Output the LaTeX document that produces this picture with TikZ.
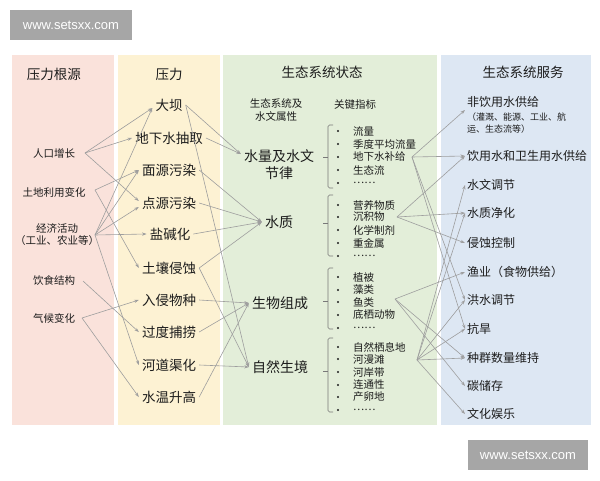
\documentclass[tikz,border=0pt]{standalone}
\usepackage{fontspec}
\setmainfont{Noto Sans CJK SC}
\newfontfamily\wmfont{Liberation Sans}
\usetikzlibrary{arrows.meta}
\definecolor{pinkbg}{RGB}{250,226,219}
\definecolor{yelbg}{RGB}{253,242,211}
\definecolor{grnbg}{RGB}{227,238,217}
\definecolor{blubg}{RGB}{221,231,243}
\definecolor{linec}{RGB}{158,158,158}
\definecolor{brkc}{RGB}{120,120,120}
\definecolor{txt}{RGB}{28,28,28}
\definecolor{wmgray}{RGB}{166,166,166}
\begin{document}
\begin{tikzpicture}[x=1pt,y=-1pt,
  ttl/.style={font=\fontsize{13.5}{15}\selectfont, text=txt, inner sep=0pt},
  src/.style={font=\fontsize{10.5}{12}\selectfont, text=txt, inner sep=0pt, align=center},
  prs/.style={font=\fontsize{13.5}{15}\selectfont, text=txt, inner xsep=3pt, inner ysep=0pt},
  stt/.style={font=\fontsize{14}{17}\selectfont, text=txt, inner xsep=3pt, inner ysep=0pt, align=center},
  hdr/.style={font=\fontsize{10.5}{13}\selectfont, text=txt, inner sep=0pt, align=center},
  ind/.style={font=\fontsize{10.5}{12}\selectfont, text=txt, inner sep=0pt, anchor=west},
  svc/.style={font=\fontsize{12}{14}\selectfont, text=txt, inner xsep=2pt, inner ysep=0pt, anchor=west},
  note/.style={font=\fontsize{9}{12}\selectfont, text=txt, inner sep=0pt, anchor=west, align=left},
  arr/.style={draw=linec, line width=0.6pt, -{Stealth[length=4.5pt,width=3.2pt]}},
  brk/.style={draw=brkc, line width=0.6pt, rounded corners=1.5pt},
  bul/.style={fill=txt},
  wm/.style={fill=wmgray, text=white, font=\wmfont\fontsize{13}{15}\selectfont, inner sep=0pt}
]
\path[use as bounding box, fill=white] (0,0) rectangle (600,480);

% panels
\fill[pinkbg] (12,55) rectangle (114,425);
\fill[yelbg] (118,55) rectangle (220,425);
\fill[grnbg] (223,55) rectangle (437,425);
\fill[blubg] (441,55) rectangle (591,425);

% watermarks
\node[wm, minimum width=122pt, minimum height=30pt] (wm1) at (71,25) {www.setsxx.com};
\node[wm, minimum width=120pt, minimum height=30pt] (wm2) at (528,455) {www.setsxx.com};

% titles
\node[ttl] (t1) at (54,74) {压力根源};
\node[ttl] (t2) at (169,74) {压力};
\node[ttl] (t3) at (322,72) {生态系统状态};
\node[ttl] (t4) at (523,72) {生态系统服务};

% column 1
\node[src] (r1) at (54,153) {人口增长};
\node[src] (r2) at (54,192) {土地利用变化};
\node[src] (r3) at (57,235) {经济活动\\（工业、农业等）};
\node[src] (r4) at (54,280) {饮食结构};
\node[src] (r5) at (54,318) {气候变化};
\coordinate (r1o) at (85,153);
\coordinate (r2o) at (95,190);
\coordinate (r3o) at (95,235);
\coordinate (r4o) at (83,281);
\coordinate (r5o) at (82,318);

% column 2
\node[prs] (p1) at (169,105) {大坝};
\node[prs] (p2) at (169,138) {地下水抽取};
\node[prs] (p3) at (169,170) {面源污染};
\node[prs] (p4) at (169,203) {点源污染};
\node[prs] (p5) at (170,234) {盐碱化};
\node[prs] (p6) at (169,268) {土壤侵蚀};
\node[prs] (p7) at (169,300) {入侵物种};
\node[prs] (p8) at (169,332) {过度捕捞};
\node[prs] (p9) at (169,365) {河道渠化};
\node[prs] (p10) at (169,397) {水温升高};

% column 3
\node[hdr] (h1) at (276,110) {生态系统及\\水文属性};
\node[hdr] (h2) at (355,105) {关键指标};
\node[stt] (e1) at (279,165) {水量及水文\\节律};
\node[stt] (e2) at (279,222) {水质};
\node[stt] (e3) at (280,303) {生物组成};
\node[stt] (e4) at (280,367) {自然生境};

% brackets
\draw[brk] (333,125) -- (328,125) -- (328,188) -- (333,188);
\draw[brk] (323,157) -- (328,157);
\draw[brk] (333,195) -- (328,195) -- (328,256) -- (333,256);
\draw[brk] (323,223) -- (328,223);
\draw[brk] (333,268) -- (328,268) -- (328,329) -- (333,329);
\draw[brk] (323,301) -- (328,301);
\draw[brk] (333,338) -- (328,338) -- (328,412) -- (333,412);
\draw[brk] (323,371) -- (328,371);

% indicators
\foreach \yy in {131,144,157,170,183, 205,217,230,243,256, 277,290,302,315,328, 347,359,372,385,397,410}
  \fill[bul] (338,\yy) circle (1.2pt);
\node[ind] (i11) at (353,131) {流量};
\node[ind] (i12) at (353,144) {季度平均流量};
\node[ind] (i13) at (353,157) {地下水补给};
\node[ind] (i14) at (353,170) {生态流};
\node[ind] (i15) at (353,183) {……};
\node[ind] (i21) at (353,205) {营养物质};
\node[ind] (i22) at (353,217) {沉积物};
\node[ind] (i23) at (353,230) {化学制剂};
\node[ind] (i24) at (353,243) {重金属};
\node[ind] (i25) at (353,256) {……};
\node[ind] (i31) at (353,277) {植被};
\node[ind] (i32) at (353,290) {藻类};
\node[ind] (i33) at (353,302) {鱼类};
\node[ind] (i34) at (353,315) {底栖动物};
\node[ind] (i35) at (353,328) {……};
\node[ind] (i41) at (353,347) {自然栖息地};
\node[ind] (i42) at (353,359) {河漫滩};
\node[ind] (i43) at (353,372) {河岸带};
\node[ind] (i44) at (353,385) {连通性};
\node[ind] (i45) at (353,397) {产卵地};
\node[ind] (i46) at (353,410) {……};
\coordinate (gwo) at (412,157);
\coordinate (sedo) at (397,217);
\coordinate (fisho) at (395,299);
\coordinate (habo) at (417,360);

% column 4
\node[svc] (s1) at (465,102) {非饮用水供给};
\node[note] (s1n) at (467,123) {（灌溉、能源、工业、航\\运、生态流等）};
\node[svc] (s2) at (465,156) {饮用水和卫生用水供给};
\node[svc] (s3) at (465,185) {水文调节};
\node[svc] (s4) at (465,213) {水质净化};
\node[svc] (s5) at (465,243) {侵蚀控制};
\node[svc] (s6) at (465,272) {渔业（食物供给）};
\node[svc] (s7) at (465,300) {洪水调节};
\node[svc] (s8) at (465,329) {抗旱};
\node[svc] (s9) at (465,358) {种群数量维持};
\node[svc] (s10) at (465,386) {碳储存};
\node[svc] (s11) at (465,414) {文化娱乐};

% connectors: column 1 -> column 2
\draw[arr] (r1o) -- ([yshift=-3pt]p1.west);
\draw[arr] (r1o) -- (p2.west);
\draw[arr] (r1o) -- ([yshift=2pt]p4.west);
\draw[arr] (r2o) -- (p3.west);
\draw[arr] (r2o) -- (p6.west);
\draw[arr] (r3o) -- ([yshift=-3pt]p1.west);
\draw[arr] (r3o) -- (p3.west);
\draw[arr] (r3o) -- ([yshift=-4pt]p4.west);
\draw[arr] (r3o) -- (p5.west);
\draw[arr] (r3o) -- (p9.west);
\draw[arr] (r4o) -- (p8.west);
\draw[arr] (r5o) -- (p7.west);
\draw[arr] (r5o) -- (p10.west);

% column 2 -> column 3
\draw[arr] (p1.east) -- ([yshift=11pt]e1.west);
\draw[arr] (p2.east) -- ([yshift=11pt]e1.west);
\draw[arr] (p1.east) -- (e4.west);
\draw[arr] (p3.east) -- (e2.west);
\draw[arr] (p4.east) -- (e2.west);
\draw[arr] (p5.east) -- (e2.west);
\draw[arr] (p6.east) -- (e2.west);
\draw[arr] (p6.east) -- (e4.west);
\draw[arr] (p7.east) -- (e3.west);
\draw[arr] (p8.east) -- (e3.west);
\draw[arr] (p10.east) -- (e3.west);
\draw[arr] (p9.east) -- (e4.west);

% column 3 -> column 4
\draw[arr] (gwo) -- ([yshift=-8pt]s1.west);
\draw[arr] (gwo) -- (s2.west);
\draw[arr] (gwo) -- (s7.west);
\draw[arr] (gwo) -- (s8.west);
\draw[arr] (sedo) -- (s2.west);
\draw[arr] (sedo) -- (s4.west);
\draw[arr] (sedo) -- (s5.west);
\draw[arr] (fisho) -- (s6.west);
\draw[arr] (fisho) -- (s9.west);
\draw[arr] (fisho) -- (s10.west);
\draw[arr] (habo) -- (s3.west);
\draw[arr] (habo) -- (s4.west);
\draw[arr] (habo) -- (s7.west);
\draw[arr] (habo) -- (s8.west);
\draw[arr] (habo) -- (s9.west);
\draw[arr] (habo) -- (s11.west);
\end{tikzpicture}
\end{document}
